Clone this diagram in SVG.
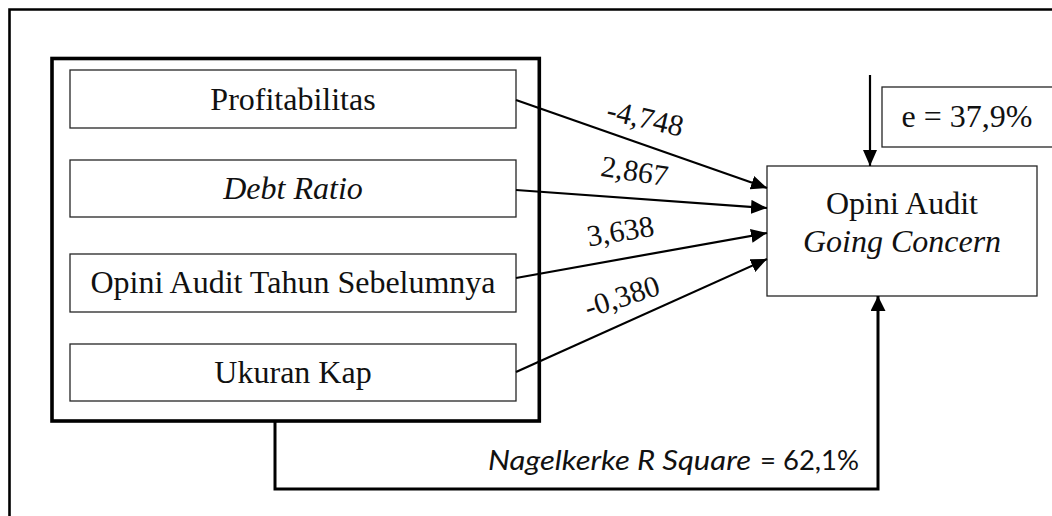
<svg xmlns="http://www.w3.org/2000/svg" width="1052" height="516" viewBox="0 0 1052 516">
  <style>
    .box { fill: #fff; stroke: #262626; stroke-width: 1.3; }
    .t { font-family: "Liberation Serif", "Times New Roman", serif; font-size: 32px; fill: #111; text-anchor: middle; }
    .lbl { font-family: "Liberation Serif", "Times New Roman", serif; font-size: 30px; fill: #111; text-anchor: middle; }
    .it { font-style: italic; }
    .conn { fill: none; stroke: #000; stroke-width: 2.2; }
    .thick { fill: none; stroke: #000; stroke-width: 3; }
    .ns { font-family: Lato, "Open Sans", sans-serif; font-size: 27px; fill: #111; }
  </style>
  <defs>
    <marker id="ah" markerUnits="userSpaceOnUse" markerWidth="17" markerHeight="14" refX="16" refY="7" orient="auto">
      <path d="M0,0 L16,7 L0,14 z" fill="#000"/>
    </marker>
    <marker id="ahv" markerUnits="userSpaceOnUse" markerWidth="16" markerHeight="15" refX="15" refY="7.5" orient="auto">
      <path d="M0,0 L15,7.5 L0,15 z" fill="#000"/>
    </marker>
  </defs>
  <rect width="1052" height="516" fill="#fff"/>
  <!-- outer frame (top and left) -->
  <path d="M9.5,516 V9.5 H1052" fill="none" stroke="#000" stroke-width="2.6"/>

  <g id="independent-group">
    <rect x="52" y="58.5" width="487.3" height="362.5" fill="none" stroke="#000" stroke-width="3.6"/>
  </g>
  <g id="profitabilitas">
    <rect class="box" x="70" y="70" width="446" height="58"/>
    <text class="t" x="293" y="110">Profitabilitas</text>
  </g>
  <g id="debt-ratio">
    <rect class="box" x="70" y="160" width="446" height="57"/>
    <text class="t it" x="293" y="199">Debt Ratio</text>
  </g>
  <g id="opini-tahun-sebelumnya">
    <rect class="box" x="70" y="254" width="446" height="58"/>
    <text class="t" x="293" y="293">Opini Audit Tahun Sebelumnya</text>
  </g>
  <g id="ukuran-kap">
    <rect class="box" x="70" y="344" width="446" height="57"/>
    <text class="t" x="293" y="383">Ukuran Kap</text>
  </g>
  <g id="opini-going-concern">
    <rect class="box" x="767" y="166" width="270" height="130"/>
    <text class="t" x="902" y="214">Opini Audit</text>
    <text class="t it" x="902" y="252">Going Concern</text>
  </g>
  <g id="error-term">
    <rect class="box" x="882" y="87" width="190" height="60"/>
    <text class="t" x="967" y="127">e = 37,9%</text>
  </g>

  <g id="connectors">
    <line class="conn" x1="516" y1="100" x2="767" y2="188" marker-end="url(#ah)"/>
    <line class="conn" x1="516" y1="190" x2="767" y2="208" marker-end="url(#ah)"/>
    <line class="conn" x1="516" y1="278" x2="767" y2="233" marker-end="url(#ah)"/>
    <line class="conn" x1="516" y1="372" x2="767" y2="259" marker-end="url(#ah)"/>
    <line class="conn" x1="870" y1="75" x2="870" y2="166" marker-end="url(#ah)"/>
    <path class="thick" d="M275,422 V489 H878 V296" marker-end="url(#ahv)"/>
    <text class="lbl" x="643" y="128" transform="rotate(13 643 128)">-4,748</text>
    <text class="lbl" x="633" y="181" transform="rotate(9 633 181)">2,867</text>
    <text class="lbl" x="622" y="241" transform="rotate(-9.5 622 241)">3,638</text>
    <text class="lbl" x="625" y="306" transform="rotate(-18 625 306)">-0,380</text>
    <text class="ns" x="488" y="470" font-style="italic" textLength="263" lengthAdjust="spacingAndGlyphs">Nagelkerke R Square</text>
    <text class="ns" x="760" y="470" textLength="99" lengthAdjust="spacingAndGlyphs">= 62,1%</text>
  </g>
</svg>
